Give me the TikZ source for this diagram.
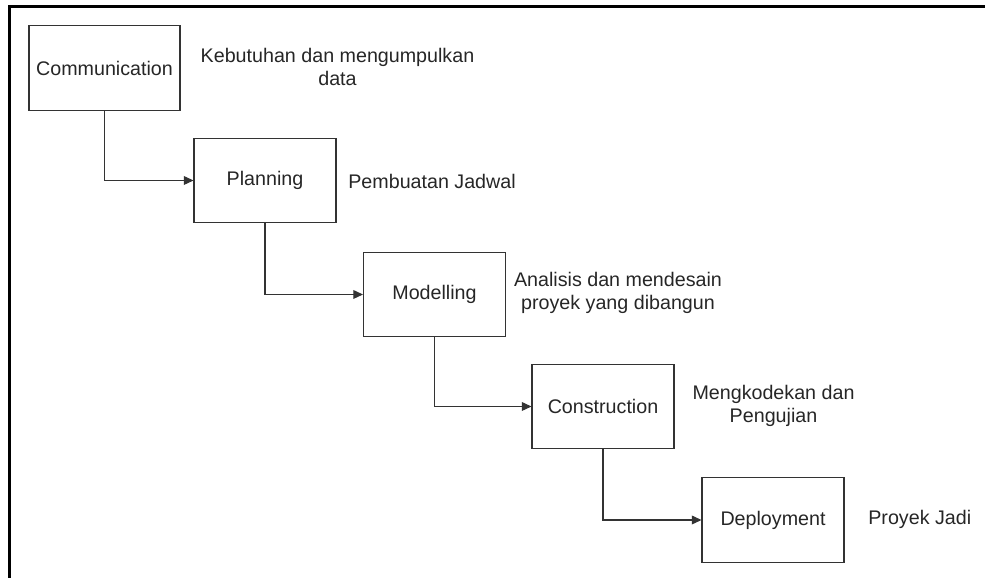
\documentclass[tikz,border=0pt]{standalone}
\usepackage{fontspec}
\setmainfont{Liberation Sans}
\usetikzlibrary{arrows.meta}

\begin{document}
\begin{tikzpicture}[
  phase/.style={rectangle,draw=black!80,line width=0.6pt,minimum width=2.84cm,minimum height=1.69cm,inner sep=0pt,font=\fontsize{11.2}{13}\selectfont,text=black!85},  note/.style={align=center,font=\fontsize{11.2}{13}\selectfont,text=black!85,inner sep=0pt},  flow/.style={draw=black!80,line width=0.6pt,-{Triangle[length=5.5pt,width=5pt]}}
]
  \useasboundingbox (0,0) rectangle (19.7,11.56);
  \draw[line width=1.2pt] (0.19,0) -- (0.19,11.43) -- (19.7,11.43);
  \node[phase,minimum width=3.02cm] (comm) at (2.09,10.20) {Communication};
  \node[phase] (plan) at (5.30,7.95) {Planning};
  \node[phase] (model) at (8.69,5.67) {Modelling};
  \node[phase] (cons) at (12.06,3.43) {Construction};
  \node[phase] (deploy) at (15.46,1.16) {Deployment};
  \node[note] (ncomm) at (6.75,10.22) {Kebutuhan dan mengumpulkan\\data};
  \node[note,anchor=west] (nplan) at (6.96,7.93) {Pembuatan Jadwal};
  \node[note] (nmodel) at (12.36,5.70) {Analisis dan mendesain\\proyek yang dibangun};
  \node[note] (ncons) at (15.47,3.44) {Mengkodekan dan\\Pengujian};
  \node[note,anchor=west] (ndeploy) at (17.36,1.18) {Proyek Jadi};
  \draw[flow] (comm.south) |- (plan.west);
  \draw[flow] (plan.south) |- (model.west);
  \draw[flow] (model.south) |- (cons.west);
  \draw[flow] (cons.south) |- (deploy.west);
\end{tikzpicture}
\end{document}
